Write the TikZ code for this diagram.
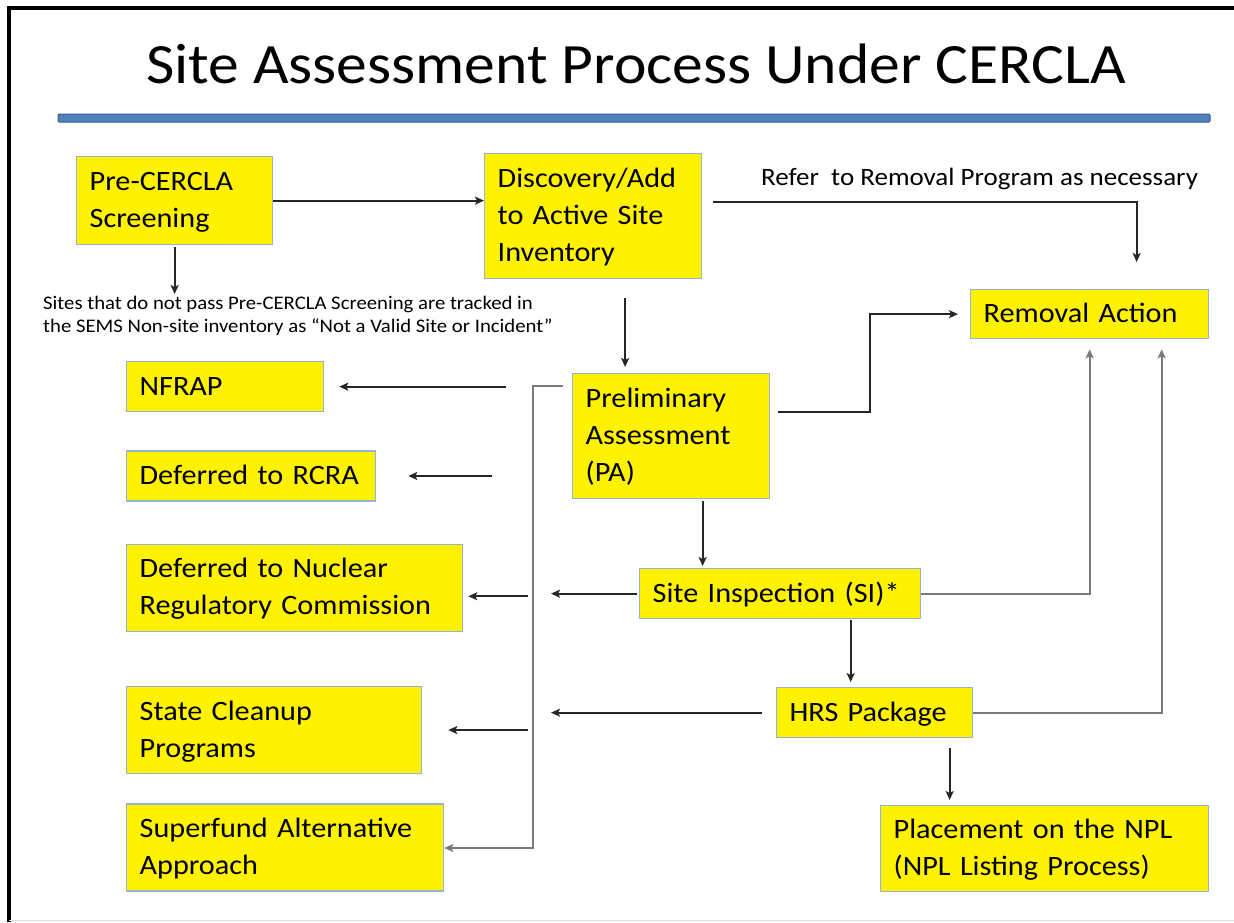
\documentclass[tikz,border=0pt]{standalone}
\usepackage{fontspec}
\setmainfont{Carlito}[FakeStretch=1.08]
\usetikzlibrary{positioning,calc,arrows.meta}

\definecolor{boxline}{HTML}{95B3D7}
\definecolor{rulefill}{HTML}{4F81BD}
\definecolor{ruleedge}{HTML}{385D8A}
\definecolor{wiregrey}{HTML}{7A7A7A}

\begin{document}
\begin{tikzpicture}[x=1pt,y=-1pt,>={Stealth[length=9pt,width=8pt,inset=2pt]},
    box/.style={draw=boxline,fill=yellow,line width=1.3pt,anchor=north west,
      inner xsep=13pt,inner ysep=0pt,align=left,font=\fontsize{28}{37}\selectfont,
      execute at begin node={\rule{0pt}{27pt}},
      execute at end node={\rule[-10pt]{0pt}{10pt}}},
    arr/.style={->,line width=1.7pt,draw=black!85},
    wire/.style={->,line width=2.1pt,draw=wiregrey}]
  \useasboundingbox (0,0) rectangle (1234,922);
  % slide frame and title bar
  \draw[line width=3.5pt] (9,922) -- (9,8) -- (1234,8);
  \draw[black!12,line width=1pt] (9,920.5) -- (1234,920.5);
  \node[font=\fontsize{57}{68}\selectfont,anchor=base] (title) at (636,83)
    {Site Assessment Process Under CERCLA};
  \draw[fill=rulefill,draw=ruleedge,line width=1pt,rounded corners=1pt]
    (58,114) rectangle (1210,122);

  \node[box,text width=170pt,minimum height=88pt] (pre) at (76,156) {Pre-CERCLA\\Screening};
  \node[box,text width=191pt,minimum height=125pt] (disc) at (484,153) {Discovery/Add\\to Active Site\\Inventory};
  \node[box,text width=212pt,minimum height=49pt] (rem) at (970,289) {Removal Action};
  \node[box,text width=171pt,minimum height=125pt] (pa) at (572,373) {Preliminary\\Assessment\\(PA)};
  \node[box,text width=255pt,minimum height=50pt] (si) at (639,568) {Site Inspection (SI)*};
  \node[box,text width=170pt,minimum height=50pt] (hrs) at (776,687) {HRS Package};
  \node[box,text width=302pt,minimum height=86pt] (npl) at (880,805) {Placement on the NPL\\(NPL Listing Process)};

  % left column
  \node[box,text width=171pt,minimum height=50pt] (nfrap) at (126,361) {NFRAP};
  \node[box,text width=223pt,minimum height=50pt] (rcra) [below=38pt of nfrap.south west,anchor=north west] {Deferred to RCRA};
  \node[box,text width=310pt,minimum height=87pt] (nrc) [below=42pt of rcra.south west,anchor=north west] {Deferred to Nuclear\\Regulatory Commission};
  \node[box,text width=269pt,minimum height=87pt] (state) [below=54pt of nrc.south west,anchor=north west] {State Cleanup\\Programs};
  \node[box,text width=291pt,minimum height=87pt] (saa) [below=29pt of state.south west,anchor=north west] {Superfund Alternative\\Approach};

  \node[font=\fontsize{19.2}{23}\selectfont,anchor=north west,align=left,inner sep=0pt] (note) at (43,296)
    {Sites that do not pass Pre-CERCLA Screening are tracked in\\the SEMS Non-site inventory as “Not a Valid Site or Incident”};
  \node[font=\fontsize{25}{30}\selectfont,anchor=base west,inner sep=0pt] (refer) at (761,185)
    {Refer\ \ to Removal Program as necessary};

  % top row
  \draw[arr] (pre.east) -- (pre.east -| disc.west);
  \draw[arr,shorten <=2pt,shorten >=2pt] (pre.south) -- (pre.south |- note.north);
  \draw[arr,shorten <=11pt,shorten >=27pt] ([yshift=14pt]disc.east) -| ([xshift=47pt]rem.north);
  \draw[arr,shorten <=19pt,shorten >=6pt] ([xshift=-46pt]pa.north |- disc.south) -- ([xshift=-46pt]pa.north);
  \draw[arr,shorten <=8pt,shorten >=12pt] ([yshift=24pt]pa.east) -| ($(pa.east)!0.5!(rem.west)$) |- (rem.west);

  % main chain
  \draw[arr,shorten <=2pt,shorten >=2pt] ([xshift=31.5pt]pa.south) -- ([xshift=31.5pt]pa.south |- si.north);
  \draw[arr,shorten <=1pt,shorten >=5pt] ([xshift=70.5pt]si.south) -- ([xshift=70.5pt]si.south |- hrs.north);
  \draw[arr,shorten <=10pt,shorten >=5pt] ([xshift=75pt]hrs.south) -- ([xshift=75pt]hrs.south |- npl.north);
  \draw[wire,shorten >=10pt] (si.east) -| (rem.south);
  \draw[wire,shorten >=10pt] (hrs.east) -| ([xshift=72pt]rem.south);

  % exits to the left
  \coordinate (spine) at (533,848);
  \draw[wire] ([xshift=-9pt,yshift=-13pt]pa.north west) -| (spine) -- (spine -| saa.east);
  \draw[arr] ([xshift=182pt]nfrap.east) -- ([xshift=15pt]nfrap.east);
  \draw[arr] ([xshift=116pt]rcra.east) -- ([xshift=32pt]rcra.east);
  \draw[arr] ([xshift=65pt,yshift=-8.5pt]nrc.east) -- ([xshift=5pt,yshift=-8.5pt]nrc.east);
  \draw[arr] ([xshift=106pt]state.east) -- ([xshift=26pt]state.east);
  \draw[arr,shorten <=2pt] (si.west) -- ++(-88,0);
  \draw[arr,shorten <=14pt] (hrs.west) -- ++(-225,0);
\end{tikzpicture}
\end{document}
